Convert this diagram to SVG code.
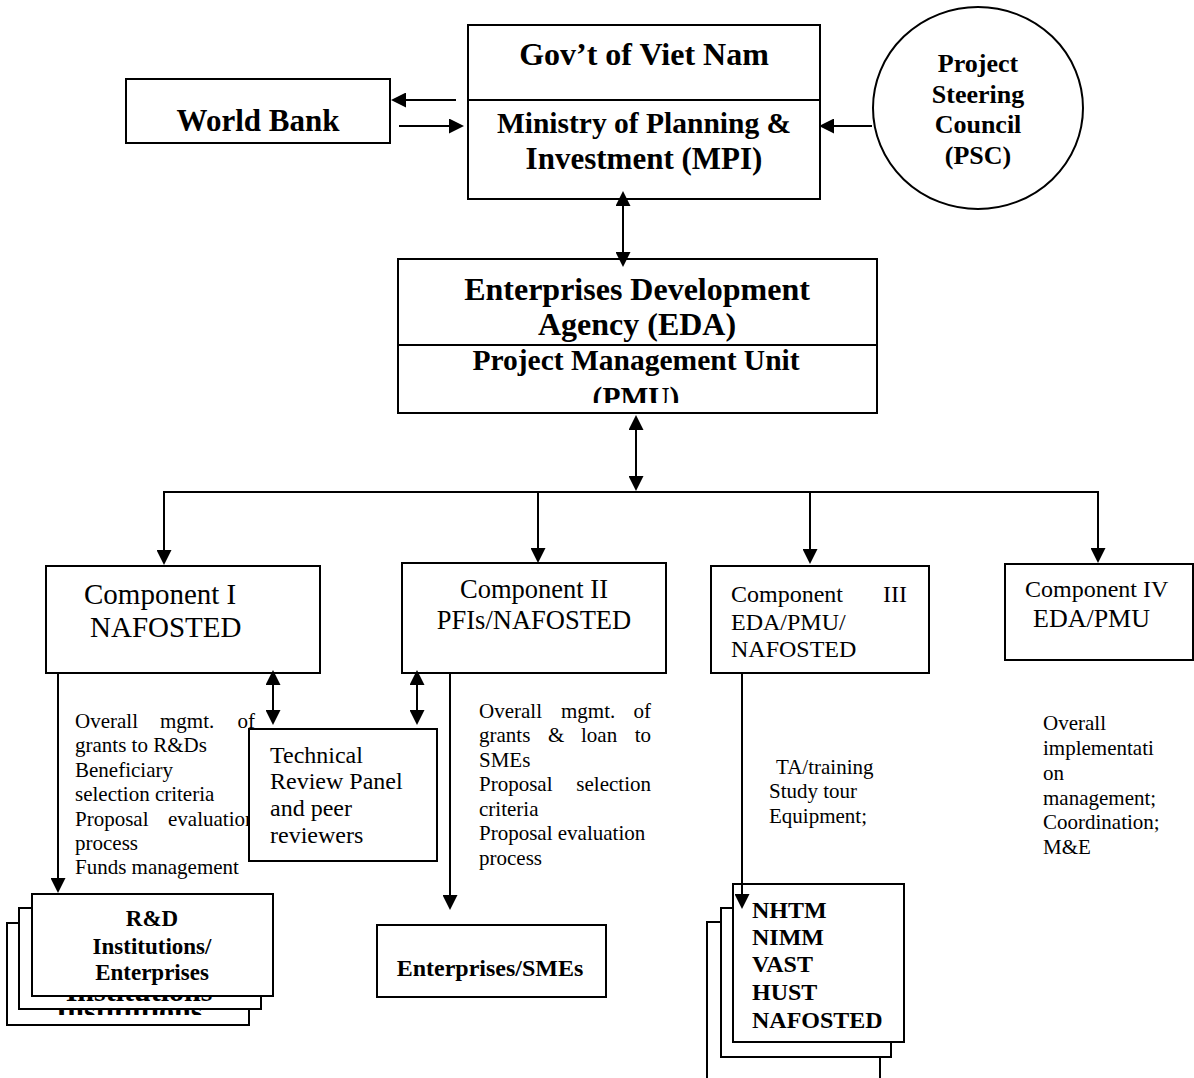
<svg xmlns="http://www.w3.org/2000/svg" width="1194" height="1078" viewBox="0 0 1194 1078">
<style>
.box{fill:#fff;stroke:#000;stroke-width:2}
.ln{stroke:#000;stroke-width:2;fill:none}
.b{font-family:"Liberation Serif","Times New Roman",serif;font-weight:bold;fill:#000}
.r{font-family:"Liberation Serif","Times New Roman",serif;fill:#000}
.c{text-anchor:middle}
.e{text-anchor:end}
.arr{marker-end:url(#ah)}
.dbl{marker-start:url(#ah);marker-end:url(#ah)}
</style>
<defs>
<marker id="ah" viewBox="0 0 15 15" refX="13" refY="7.5" markerWidth="15" markerHeight="15" markerUnits="userSpaceOnUse" orient="auto-start-reverse"><path d="M0,0 L15,7.5 L0,15 z" fill="#000"/></marker>
<clipPath id="clipPmu"><rect x="398" y="345" width="479" height="58"/></clipPath>
<clipPath id="clipMid"><rect x="19" y="908" width="242" height="93"/></clipPath>
<clipPath id="clipBack"><rect x="7" y="923" width="242" height="92"/></clipPath>
</defs>

<g id="world-bank">
<rect class="box" x="126" y="79" width="264" height="64"/>
<text class="b c" x="258" y="131" font-size="31">World Bank</text>
</g>

<g id="gov-mpi">
<rect class="box" x="468" y="25" width="352" height="174"/>
<line class="ln" x1="468" y1="100" x2="820" y2="100"/>
<text class="b c" x="644" y="65" font-size="32">Gov’t of Viet Nam</text>
<text class="b c" x="644" y="133" font-size="29.5">Ministry of Planning &amp;</text>
<text class="b c" x="644" y="169" font-size="31">Investment (MPI)</text>
</g>

<g id="psc">
<ellipse class="box" cx="978" cy="108" rx="105" ry="101"/>
<text class="b c" x="978" y="72" font-size="26">Project</text>
<text class="b c" x="978" y="103" font-size="26">Steering</text>
<text class="b c" x="978" y="133" font-size="26">Council</text>
<text class="b c" x="978" y="164" font-size="26">(PSC)</text>
</g>

<g id="eda-pmu">
<rect class="box" x="398" y="259" width="479" height="154"/>
<line class="ln" x1="398" y1="345" x2="877" y2="345"/>
<text class="b c" x="637" y="300" font-size="32">Enterprises Development</text>
<text class="b c" x="637" y="335" font-size="32">Agency (EDA)</text>
<text class="b c" x="636" y="370" font-size="29.5">Project Management Unit</text>
<text class="b c" x="636" y="407" font-size="29.5" clip-path="url(#clipPmu)">(PMU)</text>
</g>

<g id="component-1">
<rect class="box" x="46" y="566" width="274" height="107"/>
<text class="r" x="84" y="604" font-size="29">Component I</text>
<text class="r" x="90" y="637" font-size="29">NAFOSTED</text>
</g>

<g id="component-2">
<rect class="box" x="402" y="563" width="264" height="110"/>
<text class="r c" x="534" y="598" font-size="26.5">Component II</text>
<text class="r c" x="534" y="629" font-size="26.5">PFIs/NAFOSTED</text>
</g>

<g id="component-3">
<rect class="box" x="711" y="566" width="218" height="107"/>
<text class="r" x="731" y="602" font-size="24">Component</text>
<text class="r e" x="907" y="602" font-size="24">III</text>
<text class="r" x="731" y="630" font-size="24">EDA/PMU/</text>
<text class="r" x="731" y="657" font-size="24">NAFOSTED</text>
</g>

<g id="component-4">
<rect class="box" x="1005" y="564" width="188" height="96"/>
<text class="r" x="1025" y="597" font-size="24">Component IV</text>
<text class="r" x="1033" y="627" font-size="26">EDA/PMU</text>
</g>

<g id="component-1-tasks" class="r" font-size="21">
<text x="75" y="728">Overall</text>
<text x="160" y="728">mgmt.</text>
<text class="e" x="255" y="728">of</text>
<text x="75" y="752">grants to R&amp;Ds</text>
<text x="75" y="777">Beneficiary</text>
<text x="75" y="801">selection criteria</text>
<text x="75" y="826">Proposal</text>
<text x="168" y="826">evaluation</text>
<text x="75" y="850">process</text>
<text x="75" y="874">Funds management</text>
</g>

<g id="technical-review-panel">
<rect class="box" x="249" y="729" width="188" height="132"/>
<text class="r" x="270" y="763" font-size="24">Technical</text>
<text class="r" x="270" y="789" font-size="24">Review Panel</text>
<text class="r" x="270" y="816" font-size="24">and peer</text>
<text class="r" x="270" y="843" font-size="24">reviewers</text>
</g>

<g id="component-2-tasks" class="r" font-size="21">
<text x="479" y="718">Overall</text>
<text x="561" y="718">mgmt.</text>
<text class="e" x="651" y="718">of</text>
<text x="479" y="742">grants</text>
<text x="548" y="742">&amp;</text>
<text x="581" y="742">loan</text>
<text class="e" x="651" y="742">to</text>
<text x="479" y="767">SMEs</text>
<text x="479" y="791">Proposal</text>
<text class="e" x="651" y="791">selection</text>
<text x="479" y="816">criteria</text>
<text x="479" y="840">Proposal evaluation</text>
<text x="479" y="865">process</text>
</g>

<g id="component-3-tasks" class="r" font-size="21">
<text x="776" y="774">TA/training</text>
<text x="769" y="798">Study tour</text>
<text x="769" y="823">Equipment;</text>
</g>

<g id="component-4-tasks" class="r" font-size="21">
<text x="1043" y="730">Overall</text>
<text x="1043" y="755">implementati</text>
<text x="1043" y="780">on</text>
<text x="1043" y="805">management;</text>
<text x="1043" y="829">Coordination;</text>
<text x="1043" y="854">M&amp;E</text>
</g>

<g id="rd-institutions">
<rect class="box" x="7" y="923" width="242" height="102"/>
<text class="b c" x="129" y="1021" font-size="30" clip-path="url(#clipBack)">Institutions</text>
<rect class="box" x="19" y="908" width="242" height="101"/>
<text class="b c" x="139" y="1001" font-size="30" clip-path="url(#clipMid)">Institutions</text>
<rect class="box" x="32" y="894" width="241" height="102"/>
<text class="b c" x="152" y="926" font-size="23">R&amp;D</text>
<text class="b c" x="152" y="954" font-size="23">Institutions/</text>
<text class="b c" x="152" y="980" font-size="23">Enterprises</text>
</g>

<g id="enterprises-smes">
<rect class="box" x="377" y="925" width="229" height="72"/>
<text class="b c" x="490" y="976" font-size="24">Enterprises/SMEs</text>
</g>

<g id="research-institutes">
<rect class="box" x="707" y="922" width="173" height="170"/>
<rect class="box" x="721" y="908" width="170" height="149"/>
<rect class="box" x="733" y="884" width="171" height="158"/>
<text class="b" x="752" y="918" font-size="24">NHTM</text>
<text class="b" x="752" y="945" font-size="24">NIMM</text>
<text class="b" x="752" y="972" font-size="24">VAST</text>
<text class="b" x="752" y="1000" font-size="24">HUST</text>
<text class="b" x="752" y="1028" font-size="24">NAFOSTED</text>
</g>

<g id="connectors">
<line class="ln arr" x1="456" y1="100" x2="393" y2="100"/>
<line class="ln arr" x1="399" y1="126" x2="462" y2="126"/>
<line class="ln arr" x1="872" y1="126" x2="821" y2="126"/>
<line class="ln dbl" x1="623" y1="193" x2="623" y2="265"/>
<line class="ln dbl" x1="636" y1="417" x2="636" y2="489"/>
<line class="ln" x1="163" y1="492" x2="1099" y2="492" stroke-width="3"/>
<line class="ln arr" x1="164" y1="492" x2="164" y2="563"/>
<line class="ln arr" x1="538" y1="492" x2="538" y2="561"/>
<line class="ln arr" x1="810" y1="492" x2="810" y2="562"/>
<line class="ln arr" x1="1098" y1="492" x2="1098" y2="561"/>
<line class="ln dbl" x1="273" y1="672" x2="273" y2="723"/>
<line class="ln dbl" x1="417" y1="672" x2="417" y2="723"/>
<line class="ln arr" x1="58" y1="673" x2="58" y2="891"/>
<line class="ln arr" x1="450" y1="673" x2="450" y2="908"/>
<line class="ln arr" x1="742" y1="673" x2="742" y2="907"/>
</g>
</svg>
